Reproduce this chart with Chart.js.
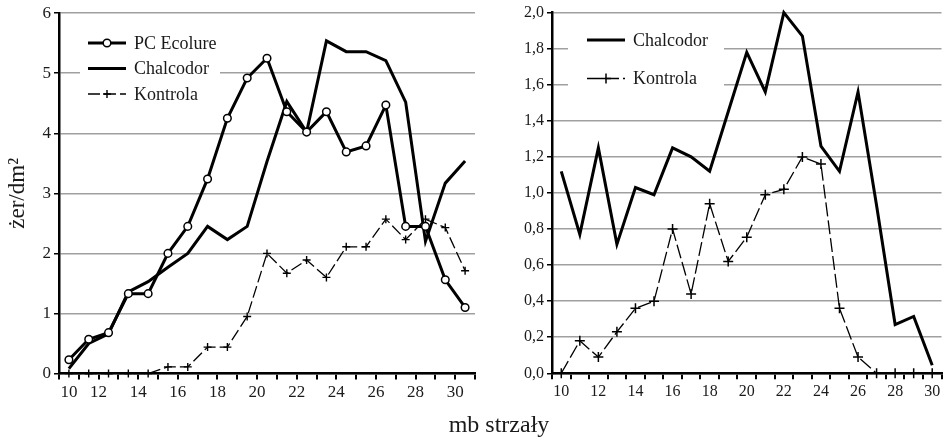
<!DOCTYPE html>
<html>
<head>
<meta charset="utf-8">
<script src="https://cdn.jsdelivr.net/npm/chart.js@4.4.1/dist/chart.umd.min.js"></script>
<style>
  html, body { margin: 0; padding: 0; background: #fff; }
  #wrap { position: relative; width: 948px; height: 441px; overflow: hidden; }
  #left { position: absolute; left: 0; top: 0; }
  #right { position: absolute; left: 490px; top: 0; }
  #xtitle {
    position: absolute; left: 399px; width: 200px; top: 411px;
    text-align: center; font: 24px 'Liberation Serif', serif; color: #1a1a1a;
  }
</style>
</head>
<body>
<div id="wrap">
  <canvas id="left" width="490" height="441"></canvas>
  <canvas id="right" width="458" height="441"></canvas>
  <div id="xtitle">mb strzały</div>
</div>
<script>
// left panel: points sit half-way between the metre marks
const xLeft = [10.5, 11.5, 12.5, 13.5, 14.5, 15.5, 16.5, 17.5, 18.5, 19.5, 20.5,
               21.5, 22.5, 23.5, 24.5, 25.5, 26.5, 27.5, 28.5, 29.5, 30.5];
const pcEcolure = [0.23, 0.57, 0.68, 1.33, 1.33, 2.0, 2.45, 3.24, 4.25, 4.92, 5.25,
                   4.36, 4.02, 4.36, 3.69, 3.79, 4.47, 2.45, 2.45, 1.56, 1.10];
const chalcodorLeft = [0.08, 0.5, 0.66, 1.36, 1.53, 1.77, 2.0, 2.45, 2.23, 2.45, 3.53,
                       4.53, 4.02, 5.54, 5.36, 5.36, 5.21, 4.52, 2.2, 3.17, 3.54];
const kontrolaLeft = [0, 0, 0, 0, 0, 0.11, 0.11, 0.44, 0.44, 0.95, 2.0,
                      1.67, 1.89, 1.6, 2.11, 2.11, 2.57, 2.23, 2.57, 2.43, 1.71];

// right panel
const xRight = ['10', '11', '12', '13', '14', '15', '16', '17', '18', '19', '20',
                '21', '22', '23', '24', '25', '26', '27', '28', '29', '30'];
const chalcodorRight = [1.12, 0.77, 1.25, 0.715, 1.03, 0.99, 1.25, 1.2, 1.12, 1.45, 1.78,
                        1.56, 2.0, 1.87, 1.26, 1.12, 1.56, 0.93, 0.27, 0.315, 0.045];
const kontrolaRight = [0, 0.18, 0.09, 0.23, 0.36, 0.40, 0.80, 0.44, 0.94, 0.62, 0.755,
                       0.99, 1.02, 1.20, 1.16, 0.36, 0.09, 0, 0, 0, 0];

const SERIF = "'Liberation Serif', 'Times New Roman', serif";
Chart.defaults.font.family = SERIF;
Chart.defaults.color = '#1a1a1a';

// legend drawn inside the plot, on a white patch that hides the grid
const inlineLegend = {
  id: 'inlineLegend',
  beforeDatasetsDraw(chart, args, opts) {
    const ctx = chart.ctx;
    ctx.save();
    ctx.fillStyle = '#fff';
    ctx.fillRect(opts.box[0], opts.box[1], opts.box[2], opts.box[3]);
    chart.data.datasets.forEach((ds, i) => {
      const y = opts.y + i * opts.gap;
      const x0 = opts.x, x1 = opts.x + 38, xm = (x0 + x1) / 2;
      ctx.beginPath();
      ctx.setLineDash(ds.borderDash || []);
      ctx.lineWidth = ds.borderWidth;
      ctx.strokeStyle = '#000';
      ctx.moveTo(x0, y);
      ctx.lineTo(x1, y);
      ctx.stroke();
      ctx.setLineDash([]);
      const r = ds.pointRadius;
      if (r > 0) {
        ctx.lineWidth = ds.pointBorderWidth;
        ctx.beginPath();
        if (ds.pointStyle === 'circle') {
          ctx.arc(xm, y, r, 0, Math.PI * 2);
          ctx.fillStyle = ds.pointBackgroundColor;
          ctx.fill();
        } else {
          ctx.moveTo(xm - r, y); ctx.lineTo(xm + r, y);
          ctx.moveTo(xm, y - r); ctx.lineTo(xm, y + r);
        }
        ctx.stroke();
      }
      ctx.fillStyle = '#1a1a1a';
      ctx.font = opts.fontSize + 'px ' + SERIF;
      ctx.textBaseline = 'middle';
      ctx.fillText(ds.label, x1 + 8, y + 1);
    });
    ctx.restore();
  }
};

// the first "10" on the left axis is set in from the corner, as in the print
const firstLabelShift = {
  id: 'firstLabelShift',
  afterDraw(chart) {
    const sx = chart.scales.x;
    const item = sx.getLabelItems().find((it) => it.label === '12');
    if (!item) return;
    const ctx = chart.ctx;
    ctx.save();
    ctx.font = item.font.string;
    ctx.fillStyle = '#1a1a1a';
    ctx.textAlign = 'center';
    ctx.textBaseline = item.options.textBaseline;
    ctx.fillText('10', sx.getPixelForValue(10.5), item.options.translation[1] + (item.textOffset || 0));
    ctx.restore();
  }
};

const gridGray = '#a0a0a0';

new Chart(document.getElementById('left'), {
  type: 'line',
  data: {
    datasets: [
      {
        label: 'PC Ecolure',
        data: xLeft.map((x, i) => ({ x, y: pcEcolure[i] })),
        borderColor: '#000', borderWidth: 3,
        pointStyle: 'circle', pointRadius: 3.8, pointBorderWidth: 1.5,
        pointBackgroundColor: '#fff', pointBorderColor: '#000', clip: false
      },
      {
        label: 'Chalcodor',
        data: xLeft.map((x, i) => ({ x, y: chalcodorLeft[i] })),
        borderColor: '#000', borderWidth: 3, pointRadius: 0, clip: false
      },
      {
        label: 'Kontrola',
        data: xLeft.map((x, i) => ({ x, y: kontrolaLeft[i] })),
        borderColor: '#000', borderWidth: 1.3, borderDash: [12, 4],
        pointStyle: 'cross', pointRadius: 4, pointBorderWidth: 1.4,
        pointBorderColor: '#000', clip: false
      }
    ]
  },
  options: {
    responsive: false,
    animation: false,
    layout: { padding: { top: 10, right: 15, left: 0, bottom: 0 } },
    elements: { line: { tension: 0 } },
    plugins: {
      legend: { display: false },
      tooltip: { enabled: false },
      inlineLegend: { x: 88, y: 43, gap: 25.5, fontSize: 18, box: [80, 27, 140, 80] }
    },
    scales: {
      x: {
        type: 'linear', min: 10, max: 31,
        afterFit: (s) => { s.height = 67.5; },
        grid: { drawOnChartArea: false, tickLength: 6, tickColor: '#000', lineWidth: 2 },
        border: { color: '#000', width: 2.5 },
        ticks: {
          stepSize: 1, autoSkip: false, maxRotation: 0, padding: 3,
          font: { size: 17 },
          callback: (v) => (v % 2 === 0 && v > 10 && v <= 30 ? String(v) : '')
        }
      },
      y: {
        min: 0, max: 6,
        afterFit: (s) => { s.width = 59; },
        grid: { color: gridGray, lineWidth: 1.5, tickLength: 5, tickColor: '#000' },
        border: { color: '#000', width: 2.5 },
        ticks: { stepSize: 1, padding: 3, font: { size: 17 } },
        title: { display: true, text: 'żer/dm²', font: { size: 23 }, padding: { top: 4, bottom: 0 } }
      }
    }
  },
  plugins: [inlineLegend, firstLabelShift]
});

new Chart(document.getElementById('right'), {
  type: 'line',
  data: {
    labels: xRight,
    datasets: [
      {
        label: 'Chalcodor',
        data: chalcodorRight,
        borderColor: '#000', borderWidth: 3, pointRadius: 0, clip: false
      },
      {
        label: 'Kontrola',
        data: kontrolaRight,
        borderColor: '#000', borderWidth: 1.3, borderDash: [14, 4],
        pointStyle: 'cross', pointRadius: 5, pointBorderWidth: 1.5,
        pointBorderColor: '#000', clip: false
      }
    ]
  },
  options: {
    responsive: false,
    animation: false,
    layout: { padding: { top: 10, right: 5, left: 0, bottom: 0 } },
    elements: { line: { tension: 0 } },
    plugins: {
      legend: { display: false },
      tooltip: { enabled: false },
      inlineLegend: { x: 97, y: 40, gap: 38.5, fontSize: 18, box: [78, 24, 156, 72] }
    },
    scales: {
      x: {
        type: 'category', offset: true,
        afterFit: (s) => { s.height = 67.7; },
        grid: { offset: true, drawOnChartArea: false, tickLength: 6, tickColor: '#000', lineWidth: 2 },
        border: { color: '#000', width: 2.5 },
        ticks: {
          autoSkip: false, maxRotation: 0, padding: 3, font: { size: 16 },
          callback: (v, i) => (i % 2 === 0 ? xRight[i] : '')
        }
      },
      y: {
        min: 0, max: 2,
        afterFit: (s) => { s.width = 62; },
        grid: { color: gridGray, lineWidth: 1.5, tickLength: 5, tickColor: '#000' },
        border: { color: '#000', width: 2.5 },
        ticks: {
          stepSize: 0.2, padding: 3, font: { size: 16 },
          callback: (v) => v.toFixed(1).replace('.', ',')
        }
      }
    }
  },
  plugins: [inlineLegend]
});
</script>
</body>
</html>
